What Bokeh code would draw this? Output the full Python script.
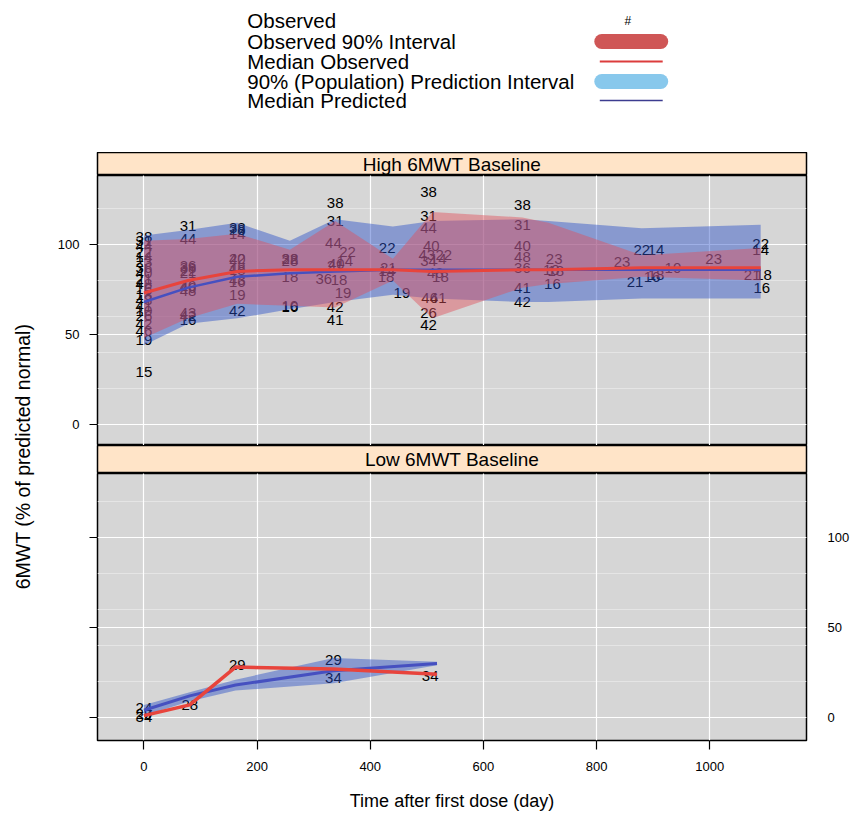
from bokeh.plotting import figure
from bokeh.layouts import column, row
from bokeh.models import Range1d, FixedTicker, LinearAxis, Grid, ColumnDataSource
from bokeh.core.properties import value
from bokeh.embed import file_html
from bokeh.resources import INLINE
import math

FONT = "Liberation Sans"

# ---------------- data ----------------
legend_labels = ["Observed", "Observed 90% Interval", "Median Observed",
                 "90% (Population) Prediction Interval", "Median Predicted"]
panel_titles = ["High 6MWT Baseline", "Low 6MWT Baseline"]
x_ticks = [0, 200, 400, 600, 800, 1000]
y_ticks = [0, 50, 100]
x_label = "Time after first dose (day)"
y_label = "6MWT (% of predicted normal)"

# High 6MWT baseline: observed values labelled by subject ID
high_time = [0] * 20 + [78] * 12 + [165] * 11 + [258] * 6 + \
    [338, 338, 335, 360, 355, 340, 338, 318, 345, 352, 338, 338] + \
    [430, 432, 430, 428, 456] + \
    [503, 503, 503, 508, 500, 530, 503, 520, 524, 515, 505, 520, 503, 503] + \
    [669] * 7 + [725, 720, 728, 722] + \
    [845, 880, 905, 868, 898, 905, 935] + [1007] + [1090, 1090, 1075, 1095, 1092]
high_dv = [104, 102, 99, 96, 93, 90, 87, 84, 81, 78, 75, 72, 69, 66, 63, 60, 56, 52, 47, 29] + \
    [110, 103, 88, 87, 85, 84, 77, 76, 74, 62, 60, 58] + \
    [109, 108, 106, 92, 92, 87, 86, 80, 79, 72, 63] + \
    [92, 92, 91, 82, 65, 66] + \
    [123, 113, 101, 96, 91, 89, 88, 81, 80, 73, 65, 58] + \
    [98, 87, 85, 82, 73] + \
    [129, 116, 109, 99, 94, 94, 91, 92, 82, 84, 70, 70, 62, 55] + \
    [122, 111, 99, 93, 87, 76, 68] + [92, 86, 85, 78] + \
    [90, 97, 97, 79, 82, 83, 87] + [92] + [100, 97, 83, 83, 76]
high_id = [38, 31, 44, 22, 14, 23, 36, 40, 21, 48, 16, 18, 43, 41, 10, 26, 42, 46, 19, 15] + \
    [31, 44, 36, 38, 22, 21, 40, 46, 48, 43, 42, 16] + \
    [38, 28, 14, 40, 22, 48, 18, 43, 16, 19, 42] + \
    [22, 38, 28, 18, 16, 10] + \
    [38, 31, 44, 22, 14, 40, 21, 36, 18, 19, 42, 41] + \
    [22, 21, 14, 18, 19] + \
    [38, 31, 44, 40, 43, 22, 34, 14, 18, 48, 46, 41, 26, 42] + \
    [38, 31, 40, 48, 36, 41, 42] + [23, 10, 18, 16] + \
    [23, 22, 14, 21, 16, 18, 10] + [23] + [22, 14, 21, 18, 16]

# High baseline: bins of observed / predicted summaries
high_bin_time = [0, 78, 165, 258, 338, 440, 510, 669, 715, 880, 1090]
high_pi_lo = [44, 56, 59, 64, 68, 72, 70, 68, 68, 70, 70]
high_pi_hi = [105, 108, 112, 102, 114, 110, 113, 114, 113, 109, 111]
high_pred_med = [68, 76, 82, 84, 85, 86, 86, 86, 86, 86, 86]
high_obs_lo = [48, 59, 67, 66, 65, 80, 59, 76, 78, 82, 80]
high_obs_hi = [102, 103, 106, 97, 113, 92, 118, 115, 112, 94, 98]
high_obs_med = [73, 80, 85, 86, 86, 86, 85, 86, 86, 87, 87]

# Low 6MWT baseline
low_time = [0, 0, 0, 81, 165, 335, 335, 506]
low_dv = [5, 2, 0, 7, 29, 32, 22, 23]
low_id = [24, 29, 34, 28, 29, 29, 34, 34]
low_bin_time = [0, 81, 162, 335, 518]
low_pi_lo = [1, 9, 15, 19, 29]
low_pi_hi = [7, 14, 21, 33, 31]
low_pred_med = [4, 12, 18, 26, 30]
low_obs_med = [1, 7, 28, 27, 24]

# ---------------- style ----------------
PANEL_BG = "#d6d6d6"
STRIP_BG = "#ffe4c8"
BLUE_BAND = "#2a50c8"
RED_BAND = "#e0505a"
RED_LINE = "#e8443c"
BLUE_LINE = "#4650c0"

X_RANGE = (-82, 1171)
COL_W = 807
LEFT_B = 52
RIGHT_B = 45


def make_strip(title, h):
    s = figure(width=COL_W, height=h, x_range=Range1d(0, 1), y_range=Range1d(0, 1),
               toolbar_location=None, output_backend="svg",
               x_axis_location=None, y_axis_location=None,
               min_border_left=LEFT_B, min_border_right=RIGHT_B,
               min_border_top=0, min_border_bottom=0,
               background_fill_color=STRIP_BG, border_fill_color="white",
               outline_line_color="black", outline_line_width=1.5)
    s.grid.visible = False
    s.text(x=[0.5], y=[0.5], text=[title], text_font=value(FONT), text_font_size="19px",
           text_align="center", text_baseline="middle", text_color="black")
    return s


def make_panel(h, yr, bottom_border):
    p = figure(width=COL_W, height=h + bottom_border, x_range=Range1d(*X_RANGE), y_range=Range1d(*yr),
               toolbar_location=None, output_backend="svg",
               x_axis_location=None, y_axis_location=None,
               min_border_left=LEFT_B, min_border_right=RIGHT_B,
               min_border_top=0, min_border_bottom=bottom_border,
               background_fill_color=PANEL_BG, border_fill_color="white",
               outline_line_color="black", outline_line_width=1.5)
    p.add_layout(Grid(dimension=0, ticker=FixedTicker(ticks=x_ticks),
                      grid_line_color="white", grid_line_width=1.2))
    p.add_layout(Grid(dimension=1, ticker=FixedTicker(ticks=y_ticks),
                      grid_line_color="white", grid_line_width=1.2))
    return p


def yaxis(show_labels, standoff=10, tick=8):
    ax = LinearAxis(ticker=FixedTicker(ticks=y_ticks), major_tick_out=tick, major_tick_in=0,
                    minor_tick_line_color=None, axis_line_color=None,
                    major_tick_line_color="black", major_tick_line_width=1.2,
                    major_label_text_font=FONT, major_label_text_font_size="13px",
                    major_label_text_color="black",
                    major_label_standoff=standoff, major_label_orientation="horizontal")
    if not show_labels:
        ax.major_label_text_alpha = 0
    return ax


def draw(p, t, dv, ids, bt, pilo, pihi, pmed, olo, ohi, omed, lw):
    src = ColumnDataSource(dict(t=t, dv=dv, lab=[str(i) for i in ids]))
    p.text(x="t", y="dv", text="lab", source=src, text_font=value(FONT), text_font_size="15px",
           text_align="center", text_baseline="middle", text_color="black")
    p.varea(x=bt, y1=pilo, y2=pihi, fill_color=BLUE_BAND, fill_alpha=0.45)
    if olo is not None:
        p.varea(x=bt, y1=olo, y2=ohi, fill_color=RED_BAND, fill_alpha=0.45)
    p.line(x=bt, y=pmed, line_color=BLUE_LINE, line_width=lw)
    p.line(x=bt, y=omed, line_color=RED_LINE, line_width=lw + 0.5)


# legend figure (its frame is aligned with the panels' frames: page x 97..807)
leg = figure(width=COL_W, height=152, x_range=Range1d(97, 807), y_range=Range1d(152, 0),
             toolbar_location=None, output_backend="svg",
             x_axis_location=None, y_axis_location=None,
             min_border=0, outline_line_color=None,
             background_fill_color="white", border_fill_color="white")
leg.grid.visible = False
leg_y = [20, 41, 61, 81, 100]
leg.text(x=[247] * 5, y=leg_y, text=legend_labels, text_font=value(FONT), text_font_size="20.5px",
         text_align="left", text_baseline="middle", text_color="black")
leg.text(x=[628], y=[leg_y[0]], text=["#"], text_font=value(FONT), text_font_size="12px",
         text_align="center", text_baseline="middle", text_color="black")
leg.line(x=[602, 661], y=[leg_y[1]] * 2, line_width=15, line_cap="round", line_color="#cf5656")
leg.line(x=[600, 663], y=[leg_y[2]] * 2, line_width=2, line_color="#dc3c3c")
leg.line(x=[602, 661], y=[leg_y[3]] * 2, line_width=15, line_cap="round", line_color="#88c8ec")
leg.line(x=[600, 663], y=[leg_y[4]] * 2, line_width=1.5, line_color="#3c3c90")

strip1 = make_strip(panel_titles[0], 23)
p1 = make_panel(270, (-11.7, 138.3), 0)
p1.add_layout(yaxis(True), "left")
draw(p1, high_time, high_dv, high_id, high_bin_time, high_pi_lo, high_pi_hi, high_pred_med,
     high_obs_lo, high_obs_hi, high_obs_med, 2.5)

strip2 = make_strip(panel_titles[1], 28)
p2 = make_panel(267, (-12.8, 135.6), 76)
p2.add_layout(yaxis(False), "left")
p2.add_layout(yaxis(True, standoff=21, tick=0), "right")
xax = LinearAxis(ticker=FixedTicker(ticks=x_ticks), major_tick_out=9, major_tick_in=0,
                 minor_tick_line_color=None, axis_line_color=None,
                 major_tick_line_color="black", major_tick_line_width=1.2,
                 major_label_text_font=FONT, major_label_text_font_size="13px",
                 major_label_text_color="black",
                 major_label_standoff=12, axis_label=x_label,
                 axis_label_text_font=FONT, axis_label_text_font_size="18px",
                 axis_label_text_color="black",
                 axis_label_text_font_style="normal", axis_label_standoff=17)
p2.add_layout(xax, "below")
draw(p2, low_time, low_dv, low_id, low_bin_time, low_pi_lo, low_pi_hi, low_pred_med,
     None, None, low_obs_med, 3)

# y label figure
yl = figure(width=45, height=816, x_range=Range1d(0, 45), y_range=Range1d(816, 0),
            toolbar_location=None, output_backend="svg",
            x_axis_location=None, y_axis_location=None,
            min_border=0, outline_line_color=None,
            background_fill_color="white", border_fill_color="white")
yl.grid.visible = False
yl.text(x=[22], y=[456], text=[y_label], angle=math.pi / 2, text_font=value(FONT),
        text_font_size="19.5px", text_align="center", text_baseline="middle", text_color="black")

layout = row(yl, column(leg, strip1, p1, strip2, p2, spacing=0), spacing=0)

open("out.html", "w").write(file_html(layout, INLINE))
